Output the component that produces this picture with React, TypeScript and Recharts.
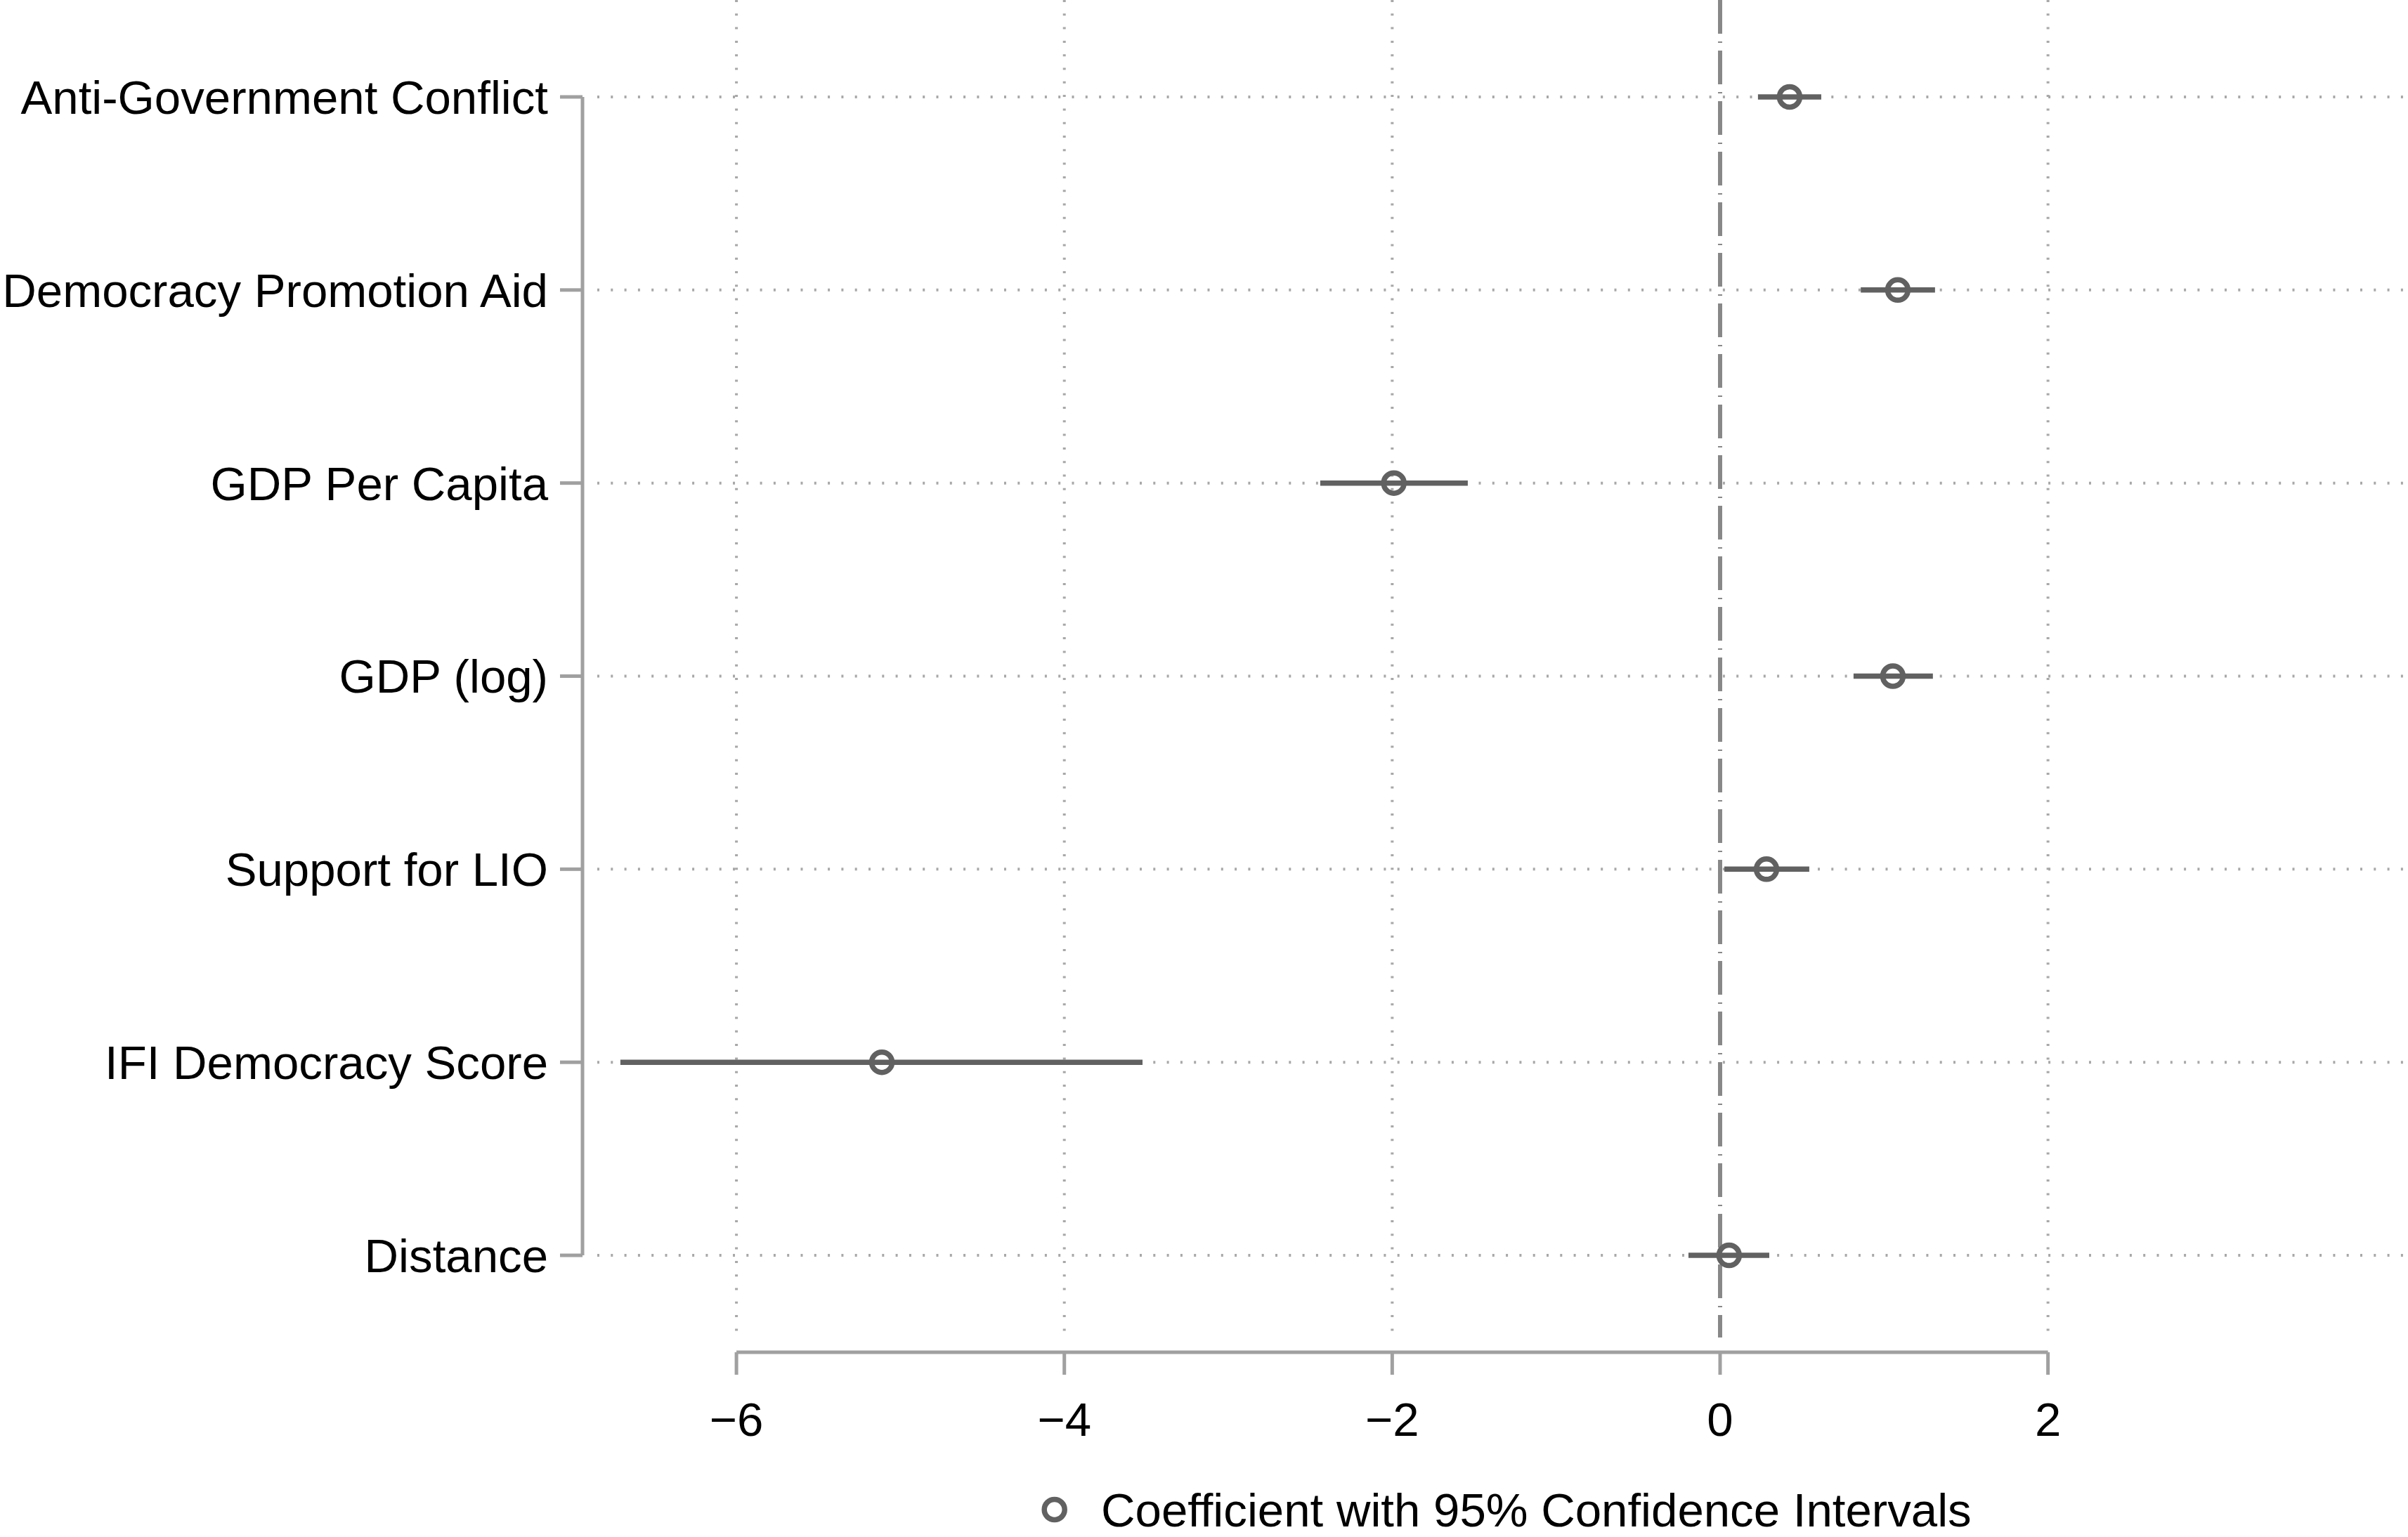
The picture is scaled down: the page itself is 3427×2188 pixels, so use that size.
import React from 'react';
import { ScatterChart, Scatter, XAxis, YAxis, ErrorBar, ReferenceLine, Legend } from 'recharts';

const FONT = '"Liberation Sans", Arial, Helvetica, sans-serif';
const FS = 67.2;

const categories = [
  'Anti-Government Conflict',
  'Democracy Promotion Aid',
  'GDP Per Capita',
  'GDP (log)',
  'Support for LIO',
  'IFI Democracy Score',
  'Distance',
];
const coefficients = [0.424, 1.084, -1.99, 1.054, 0.283, -5.113, 0.055];
const lowerCI = [0.231, 0.858, -2.439, 0.814, 0.026, -6.708, -0.193];
const upperCI = [0.617, 1.311, -1.539, 1.298, 0.544, -3.523, 0.3];
const xTicks = [-6, -4, -2, 0, 2];
const xGridTicks = [-6, -4, -2, 2];
const legendLabel = 'Coefficient with 95% Confidence Intervals';

const X_DOMAIN: [number, number] = [-6.939, 4.196];
const Y_DOMAIN: [number, number] = [0.498, 7.502];
const GRID_BOTTOM = 0.574;
const HGRID_START = -6.849;

const data = categories.map((name, i) => ({
  name,
  pos: categories.length - i,
  coef: coefficients[i],
  err: [coefficients[i] - lowerCI[i], upperCI[i] - coefficients[i]],
}));
const yTicks = data.map((d) => d.pos);

const fmtX = (v: number) => (v < 0 ? '\u2212' + Math.abs(v) : String(v));
const fmtY = (v: number) => {
  const d = data.find((r) => r.pos === v);
  return d ? d.name : '';
};

const AXIS = '#a0a0a0';
const MARK = '#616161';

const Marker = (props: any) => {
  const { cx, cy } = props;
  if (cx == null || cy == null) return null;
  return <circle cx={cx} cy={cy} r={14.5} fill="none" stroke={MARK} strokeWidth={7.5} />;
};

const LegendContent = () => (
  <svg width={3427} height={100} style={{ display: 'block' }}>
    <circle cx={1500.7} cy={49} r={14.5} fill="none" stroke={MARK} strokeWidth={7.5} />
    <text x={1567} y={73} fontSize={FS} fontFamily={FONT} fill="#000">
      {legendLabel}
    </text>
  </svg>
);

export default function App() {
  return (
    <div style={{ position: 'absolute', left: 0, top: 0, width: 3427, height: 2188, background: '#fff' }}>
      <ScatterChart
        width={3427}
        height={2188}
        margin={{ top: 0, right: 0, bottom: 43, left: 0 }}
        style={{ fontFamily: FONT }}
      >
        <XAxis
          type="number"
          dataKey="coef"
          domain={X_DOMAIN}
          allowDataOverflow
          ticks={xTicks}
          interval={0}
          tickFormatter={fmtX}
          axisLine={false}
          stroke={AXIS}
          tickLine={{ stroke: AXIS, strokeWidth: 5 }}
          tickSize={32}
          tickMargin={39}
          height={120}
          tick={{ fill: '#000', fontSize: FS, fontFamily: FONT }}
        />
        <YAxis
          type="number"
          dataKey="pos"
          domain={Y_DOMAIN}
          allowDataOverflow
          ticks={yTicks}
          interval={0}
          tickFormatter={fmtY}
          axisLine={false}
          stroke={AXIS}
          tickLine={{ stroke: AXIS, strokeWidth: 5 }}
          tickSize={32}
          tickMargin={17}
          width={829}
          tick={{ fill: '#000', fontSize: FS, fontFamily: FONT }}
        />
        {xGridTicks.map((t) => (
          <ReferenceLine
            key={'vg' + t}
            segment={[
              { x: t, y: Y_DOMAIN[1] },
              { x: t, y: GRID_BOTTOM },
            ]}
            stroke="#a8a8a8"
            strokeWidth={4}
            strokeDasharray="3 16.3"
            ifOverflow="visible"
          />
        ))}
        {yTicks.map((p) => (
          <ReferenceLine
            key={'hg' + p}
            segment={[
              { x: HGRID_START, y: p },
              { x: X_DOMAIN[1], y: p },
            ]}
            stroke="#a8a8a8"
            strokeWidth={4}
            strokeDasharray="3 16.3"
            ifOverflow="visible"
          />
        ))}
        <ReferenceLine
          segment={[
            { x: 0, y: Y_DOMAIN[1] },
            { x: 0, y: GRID_BOTTOM },
          ]}
          stroke="#888888"
          strokeWidth={6}
          strokeDasharray="48 11 2 11"
          ifOverflow="visible"
        />
        <ReferenceLine
          segment={[
            { x: xTicks[0], y: Y_DOMAIN[0] },
            { x: xTicks[xTicks.length - 1], y: Y_DOMAIN[0] },
          ]}
          stroke={AXIS}
          strokeWidth={5}
          ifOverflow="visible"
        />
        <ReferenceLine
          segment={[
            { x: X_DOMAIN[0], y: yTicks[0] },
            { x: X_DOMAIN[0], y: yTicks[yTicks.length - 1] },
          ]}
          stroke={AXIS}
          strokeWidth={5}
          ifOverflow="visible"
        />
        <Scatter data={data} dataKey="coef" name={legendLabel} isAnimationActive={false} shape={Marker}>
          <ErrorBar dataKey="err" direction="x" width={0} stroke={MARK} strokeWidth={7.5} isAnimationActive={false} />
        </Scatter>
        <Legend
          verticalAlign="bottom"
          wrapperStyle={{ position: 'absolute', left: 0, top: 2100, width: 3427, height: 100 }}
          content={LegendContent}
        />
      </ScatterChart>
    </div>
  );
}
